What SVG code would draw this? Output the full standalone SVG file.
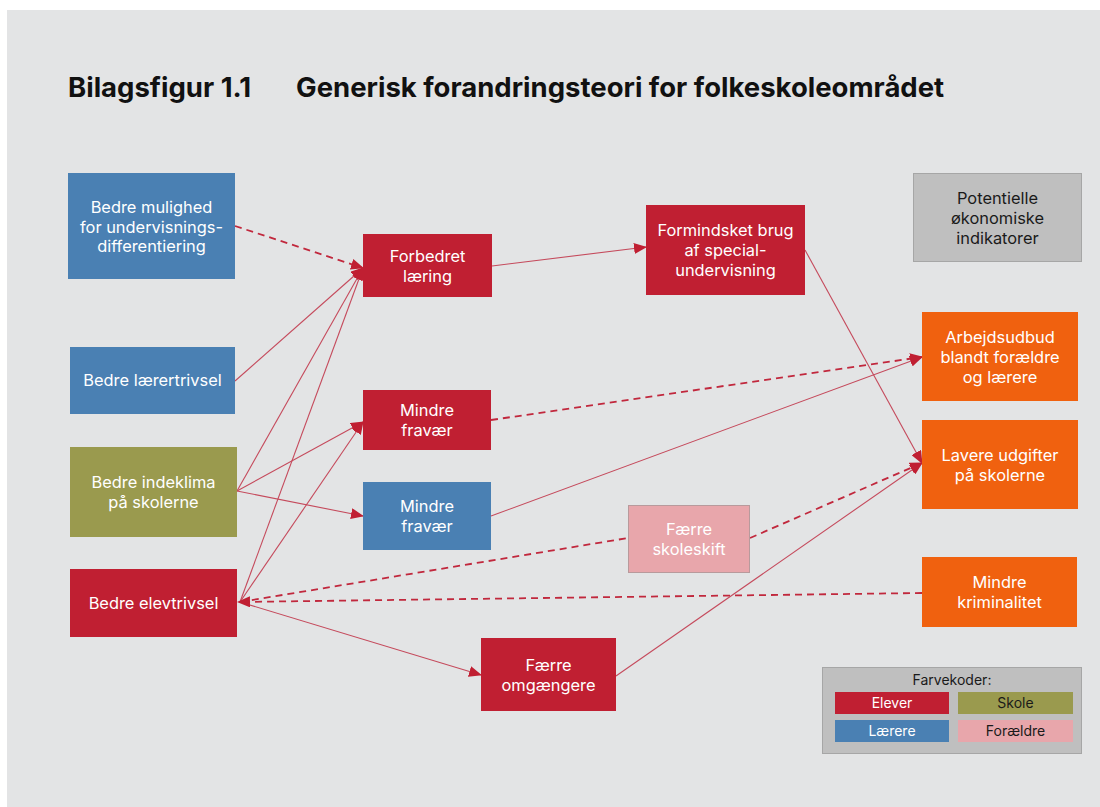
<svg xmlns="http://www.w3.org/2000/svg" width="1100" height="807" viewBox="0 0 1100 807">
  <style>
    .t { font-family: Inter, "Liberation Sans", sans-serif; font-size: 16.4px; text-anchor: middle; fill: #ffffff; }
    .title { font-family: Inter, "Liberation Sans", sans-serif; font-size: 27.5px; font-weight: bold; fill: #111111; }
    .lg { font-family: Inter, "Liberation Sans", sans-serif; font-size: 14px; text-anchor: middle; fill: #ffffff; }
    .dark { fill: #1a1a1a; }
    .red { fill: #c01f32; }
    .blue { fill: #4a80b3; }
    .olive { fill: #9a9a4e; }
    .pink { fill: #e8a6ab; stroke: #b89a9c; stroke-width: 1; }
    .orange { fill: #f0610f; }
    .grey { fill: #bfbfbf; stroke: #a6a6a6; stroke-width: 1; }
    .solid { fill: none; stroke: #c54a5c; stroke-width: 1.1; }
    .dash { fill: none; stroke: #c1283d; stroke-width: 1.8; stroke-dasharray: 7 5; }
  </style>
  <defs>
    <marker id="arr" markerUnits="userSpaceOnUse" markerWidth="13" markerHeight="11" refX="12" refY="5.5" orient="auto">
      <path d="M0,0 L13,5.5 L0,11 Z" fill="#c01f32"/>
    </marker>
  </defs>

  <rect x="7" y="10" width="1093" height="797" fill="#e3e4e5"/>

  <text class="title" x="68" y="97">Bilagsfigur 1.1</text>
  <text class="title" x="296" y="97">Generisk forandringsteori for folkeskoleområdet</text>

  <!-- connectors -->
  <g id="connectors">
    <path class="dash" d="M235,226 L363,268" marker-end="url(#arr)"/>
    <path class="solid" d="M235,381 L363,268" marker-end="url(#arr)"/>
    <path class="solid" d="M237,491 L363,268" marker-end="url(#arr)"/>
    <path class="solid" d="M237,491 L363,422" marker-end="url(#arr)"/>
    <path class="solid" d="M237,491 L363,516" marker-end="url(#arr)"/>
    <path class="solid" d="M240,602 L363,268" marker-end="url(#arr)"/>
    <path class="solid" d="M240,602 L363,422" marker-end="url(#arr)"/>
    <path class="dash" d="M240,602 L628,538"/>
    <path class="solid" d="M240,602 L481,675" marker-end="url(#arr)"/>
    <path class="dash" d="M922,593 L238,602" marker-end="url(#arr)"/>
    <path class="solid" d="M492,266 L646,247" marker-end="url(#arr)"/>
    <path class="solid" d="M805,250 L922,463" marker-end="url(#arr)"/>
    <path class="dash" d="M491,420 L922,357" marker-end="url(#arr)"/>
    <path class="solid" d="M491,516 L922,357" marker-end="url(#arr)"/>
    <path class="dash" d="M750,538 L922,463" marker-end="url(#arr)"/>
    <path class="solid" d="M616,676 L922,463" marker-end="url(#arr)"/>
  </g>

  <!-- nodes -->
  <g id="n-mulighed">
    <rect class="blue" x="68" y="173" width="167" height="106"/>
    <text class="t" x="151.5" y="213">Bedre mulighed</text>
    <text class="t" x="151.5" y="233">for undervisnings-</text>
    <text class="t" x="151.5" y="252">differentiering</text>
  </g>
  <g id="n-laerertrivsel">
    <rect class="blue" x="70" y="347" width="165" height="67"/>
    <text class="t" x="152.5" y="386">Bedre lærertrivsel</text>
  </g>
  <g id="n-indeklima">
    <rect class="olive" x="70" y="447" width="167" height="90"/>
    <text class="t" x="153.5" y="488">Bedre indeklima</text>
    <text class="t" x="153.5" y="508">på skolerne</text>
  </g>
  <g id="n-elevtrivsel">
    <rect class="red" x="70" y="569" width="167" height="68"/>
    <text class="t" x="153.5" y="609">Bedre elevtrivsel</text>
  </g>
  <g id="n-laering">
    <rect class="red" x="363" y="234" width="129" height="63"/>
    <text class="t" x="427.5" y="262">Forbedret</text>
    <text class="t" x="427.5" y="282">læring</text>
  </g>
  <g id="n-fravaer-elev">
    <rect class="red" x="363" y="390" width="128" height="60"/>
    <text class="t" x="427" y="416">Mindre</text>
    <text class="t" x="427" y="436">fravær</text>
  </g>
  <g id="n-fravaer-laerer">
    <rect class="blue" x="363" y="482" width="128" height="68"/>
    <text class="t" x="427" y="512">Mindre</text>
    <text class="t" x="427" y="532">fravær</text>
  </g>
  <g id="n-special">
    <rect class="red" x="646" y="205" width="159" height="90"/>
    <text class="t" x="725.5" y="236">Formindsket brug</text>
    <text class="t" x="725.5" y="256">af special-</text>
    <text class="t" x="725.5" y="276">undervisning</text>
  </g>
  <g id="n-skoleskift">
    <rect class="pink" x="628.5" y="505.5" width="121" height="67"/>
    <text class="t" x="689" y="535">Færre</text>
    <text class="t" x="689" y="555">skoleskift</text>
  </g>
  <g id="n-omgaengere">
    <rect class="red" x="481" y="638" width="135" height="73"/>
    <text class="t" x="548.5" y="671">Færre</text>
    <text class="t" x="548.5" y="691">omgængere</text>
  </g>
  <g id="n-indikatorer">
    <rect class="grey" x="913.5" y="173.5" width="168" height="88"/>
    <text class="t dark" x="997.5" y="204">Potentielle</text>
    <text class="t dark" x="997.5" y="224">økonomiske</text>
    <text class="t dark" x="997.5" y="244">indikatorer</text>
  </g>
  <g id="n-arbejdsudbud">
    <rect class="orange" x="922" y="312" width="156" height="89"/>
    <text class="t" x="1000" y="343">Arbejdsudbud</text>
    <text class="t" x="1000" y="363">blandt forældre</text>
    <text class="t" x="1000" y="383">og lærere</text>
  </g>
  <g id="n-udgifter">
    <rect class="orange" x="922" y="420" width="156" height="89"/>
    <text class="t" x="1000" y="461">Lavere udgifter</text>
    <text class="t" x="1000" y="481">på skolerne</text>
  </g>
  <g id="n-kriminalitet">
    <rect class="orange" x="922" y="557" width="155" height="70"/>
    <text class="t" x="999.5" y="588">Mindre</text>
    <text class="t" x="999.5" y="608">kriminalitet</text>
  </g>

  <!-- colour key -->
  <g id="legend">
    <rect class="grey" x="822.5" y="667.5" width="259" height="86"/>
    <text class="lg dark" x="952" y="685">Farvekoder:</text>
    <rect class="red" x="835" y="692" width="114" height="22"/>
    <text class="lg" x="892" y="708">Elever</text>
    <rect class="olive" x="958" y="692" width="115" height="22"/>
    <text class="lg dark" x="1015.5" y="708">Skole</text>
    <rect class="blue" x="835" y="720" width="114" height="22"/>
    <text class="lg" x="892" y="736">Lærere</text>
    <rect fill="#e8a6ab" x="958" y="720" width="115" height="22"/>
    <text class="lg dark" x="1015.5" y="736">Forældre</text>
  </g>
</svg>
